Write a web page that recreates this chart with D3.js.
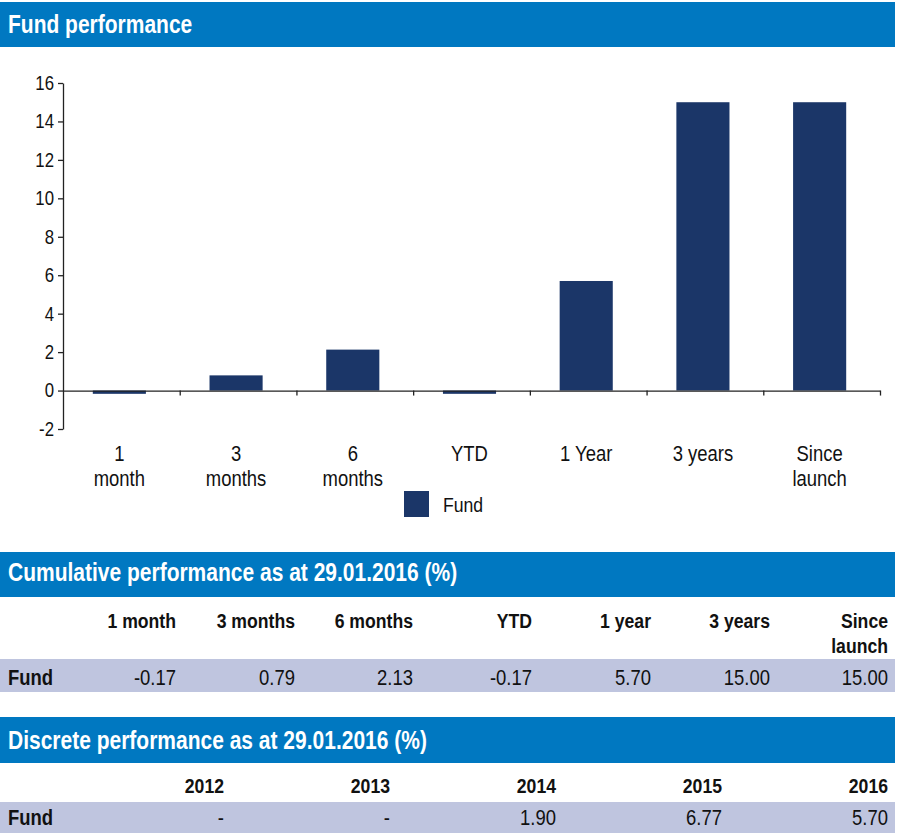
<!DOCTYPE html>
<html>
<head>
<meta charset="utf-8">
<script src="https://cdn.jsdelivr.net/npm/d3@7"></script>
<style>
  body { margin: 0; background: #fff; }
  svg text { font-family: "Liberation Sans Narrow", "Arial Narrow", "Liberation Sans", sans-serif; fill: #111; }
</style>
</head>
<body>
<svg id="chart"></svg>
<script>
// chart data
var categories = ["1 month", "3 months", "6 months", "YTD", "1 Year", "3 years", "Since launch"];
var tickLabels = [["1", "month"], ["3", "months"], ["6", "months"], ["YTD"], ["1 Year"], ["3 years"], ["Since", "launch"]];
var fundValues = [-0.17, 0.79, 2.13, -0.17, 5.70, 15.00, 15.00];
var yTicks = [-2, 0, 2, 4, 6, 8, 10, 12, 14, 16];
var seriesName = "Fund";

// table data
var cumHeaders = [["1 month"], ["3 months"], ["6 months"], ["YTD"], ["1 year"], ["3 years"], ["Since", "launch"]];
var cumValues = [-0.17, 0.79, 2.13, -0.17, 5.70, 15.00, 15.00];
var discYears = ["2012", "2013", "2014", "2015", "2016"];
var discValues = [null, null, 1.90, 6.77, 5.70];

var blue = "#0078c1";
var navy = "#1b3668";
var band = "#bfc5df";
var K = 0.84; // horizontal squeeze, no narrow font installed

var locale = d3.formatLocale({ decimal: ".", thousands: ",", grouping: [3], currency: ["", ""], minus: "-" });
var fmt2 = locale.format(".2f");

var W = 898, H = 838;
var svg = d3.select("#chart").attr("width", W).attr("height", H);

// squeeze text around its own x
function narrow(sel) {
    sel.attr("transform", function () {
        var x = +this.getAttribute("x") || 0;
        return "translate(" + x + ",0) scale(" + K + ",1) translate(" + (-x) + ",0)";
    });
}

// section header bars
function header(y, h, label, baseline) {
    svg.append("rect").attr("x", 0).attr("y", y).attr("width", 895).attr("height", h).attr("fill", blue);
    svg.append("text").attr("x", 8).attr("y", baseline)
        .style("fill", "#fff").style("font-weight", "bold").style("font-size", "25px")
        .text(label).call(narrow);
}

header(2, 45, "Fund performance", 33);

// bar chart
var x = d3.scaleBand().domain(categories).range([63, 880]).paddingInner(0.545).paddingOuter(0.2725);
var y = d3.scaleLinear().domain([-2, 16]).range([429, 83]);

var yAxis = svg.append("g")
    .attr("transform", "translate(63,0)")
    .call(d3.axisLeft(y).tickValues(yTicks).tickFormat(locale.format("d")).tickSize(5).tickSizeOuter(0).tickPadding(4));
yAxis.selectAll("text").style("font-size", "20px").style("fill", "#111").call(narrow);
yAxis.selectAll("line, path").attr("stroke", "#222").attr("stroke-width", 1.3);

svg.selectAll(".bar")
    .data(fundValues)
    .enter().append("rect")
    .attr("class", "bar")
    .attr("x", function (d, i) { return x(categories[i]) - 2; })
    .attr("y", function (d) { return y(Math.max(0, d)); })
    .attr("width", x.bandwidth())
    .attr("height", function (d) { return Math.abs(y(d) - y(0)); })
    .attr("fill", navy);

// x axis with ticks at category boundaries
var xb = d3.scaleLinear().domain([0, categories.length]).range(x.range());
var xAxis = svg.append("g")
    .attr("transform", "translate(0," + y(0) + ")")
    .call(d3.axisBottom(xb).tickValues(d3.range(1, categories.length + 1)).tickFormat("").tickSize(5).tickSizeOuter(0));
xAxis.selectAll("line, path").attr("stroke", "#222").attr("stroke-width", 1.3);

// category labels
var labels = svg.selectAll(".cat")
    .data(tickLabels)
    .enter().append("text")
    .attr("class", "cat")
    .attr("text-anchor", "middle")
    .attr("x", function (d, i) { return x(categories[i]) + x.bandwidth() / 2 - 2; })
    .attr("y", 461)
    .style("font-size", "22px");
labels.selectAll("tspan")
    .data(function (d) { return d; })
    .enter().append("tspan")
    .attr("x", function () { return d3.select(this.parentNode).attr("x"); })
    .attr("dy", function (d, i) { return i ? 25 : 0; })
    .text(function (d) { return d; });
labels.call(narrow);

// legend
svg.append("rect").attr("x", 404).attr("y", 491).attr("width", 25).attr("height", 26).attr("fill", navy);
svg.append("text").attr("x", 443).attr("y", 512).style("font-size", "21px").text(seriesName).call(narrow);

// table helper
function table(rightEdges, headers, values, headY, rowY, rowH, valY) {
    svg.append("rect").attr("x", 0).attr("y", rowY).attr("width", 895).attr("height", rowH).attr("fill", band);
    headers.forEach(function (lines, i) {
        var t = svg.append("text").attr("text-anchor", "end").attr("x", rightEdges[i]).attr("y", headY)
            .style("font-weight", "bold").style("font-size", "21px");
        lines.forEach(function (s, j) {
            t.append("tspan").attr("x", rightEdges[i]).attr("dy", j ? 25 : 0).text(s);
        });
        t.call(narrow);
    });
    svg.append("text").attr("x", 8).attr("y", valY)
        .style("font-weight", "bold").style("font-size", "22px").text(seriesName).call(narrow);
    values.forEach(function (v, i) {
        svg.append("text").attr("text-anchor", "end").attr("x", rightEdges[i]).attr("y", valY)
            .style("font-size", "22px").text(v == null ? "-" : fmt2(v)).call(narrow);
    });
}

header(552, 45, "Cumulative performance as at 29.01.2016 (%)", 581);
table([176, 295, 413, 532, 651, 770, 888], cumHeaders, cumValues, 628, 659, 33, 685);

header(717, 46, "Discrete performance as at 29.01.2016 (%)", 749);
table([224, 390, 556, 722, 888], discYears.map(function (d) { return [d]; }), discValues, 793, 802, 31, 825);
</script>
</body>
</html>
